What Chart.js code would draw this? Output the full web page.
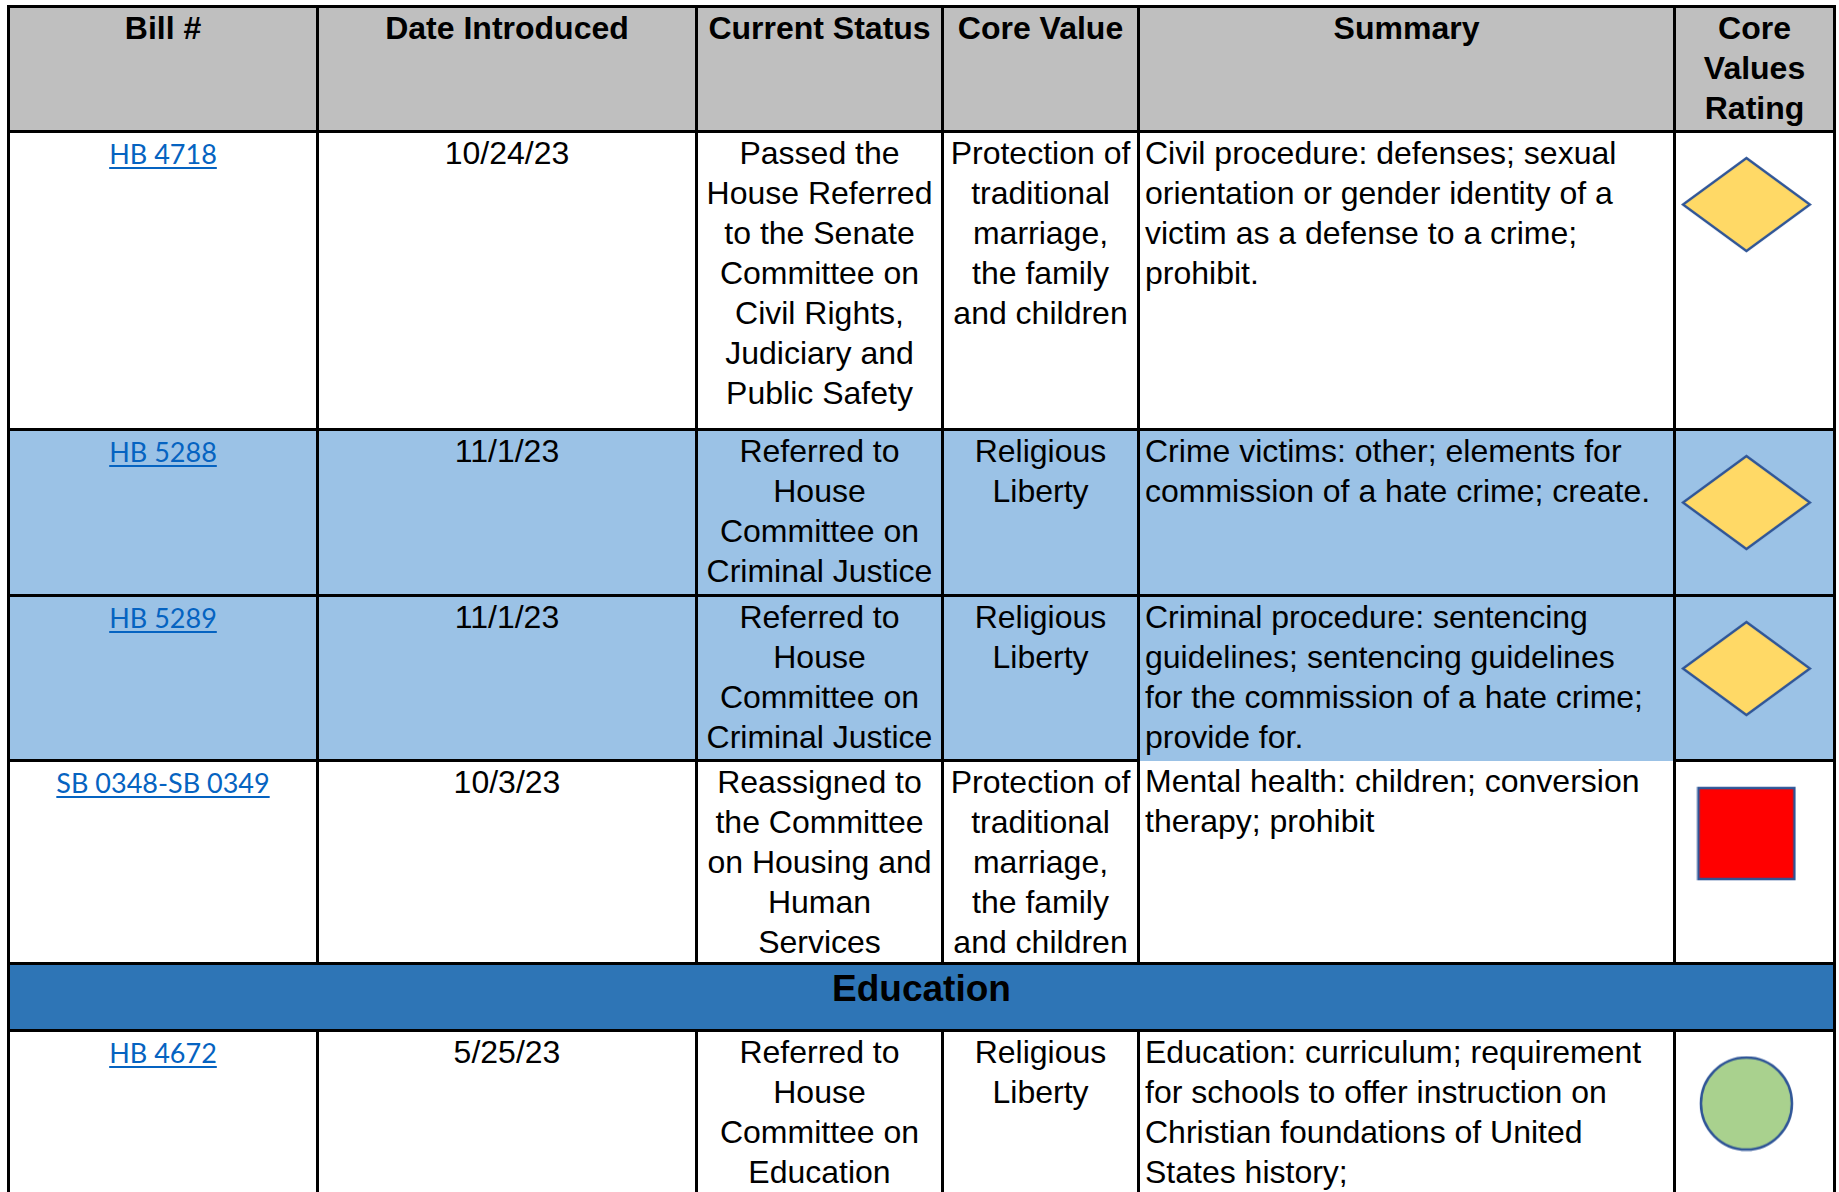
<!DOCTYPE html>
<html>
<head>
<meta charset="utf-8">
<script src="https://cdn.jsdelivr.net/npm/chart.js@4.4.0/dist/chart.umd.min.js"></script>
<style>
  html, body { margin: 0; padding: 0; background: #fff; overflow: hidden; width: 1839px; height: 1192px; }
  #tbl {
    position: absolute; left: 7px; top: 5px;
    border-collapse: collapse; table-layout: fixed; width: 1829px;
    font-family: "Liberation Sans", Arial, sans-serif; font-size: 32px; line-height: 40px; color: #000;
  }
  #tbl td, #tbl th { border: 3px solid #000; padding: 0 4px; vertical-align: top; white-space: pre; overflow: hidden; }
  #tbl th { background: #BFBFBF; font-weight: bold; text-align: center; }
  #tbl td { text-align: center; }
  #tbl td.summary { text-align: left; padding-left: 5px; }
  #tbl tr.blue td { background: #9BC2E6; }
  #tbl td.section { background: #2E75B6; font-weight: bold; font-size: 37px; line-height: 48px; }
  #tbl a { font-family: Lato, "Open Sans", sans-serif; font-size: 27px; color: #0563C1; text-decoration: underline; text-underline-offset: 3px; }
  #tbl td.rating { padding: 0; }
  #tbl td.rating canvas { display: block; }
</style>
</head>
<body>
<table id="tbl">
  <colgroup id="cols"></colgroup>
  <thead><tr id="head"></tr></thead>
  <tbody id="body"></tbody>
</table>
<script>
const headers = ['Bill #', 'Date Introduced', 'Current Status', 'Core Value', 'Summary', 'Core\nValues\nRating'];
const bills = ['HB 4718', 'HB 5288', 'HB 5289', 'SB 0348-SB 0349', 'HB 4672'];
const dates = ['10/24/23', '11/1/23', '11/1/23', '10/3/23', '5/25/23'];
const statuses = [
    'Passed the\nHouse Referred\nto the Senate\nCommittee on\nCivil Rights,\nJudiciary and\nPublic Safety',
    'Referred to\nHouse\nCommittee on\nCriminal Justice',
    'Referred to\nHouse\nCommittee on\nCriminal Justice',
    'Reassigned to\nthe Committee\non Housing and\nHuman\nServices',
    'Referred to\nHouse\nCommittee on\nEducation'
];
const coreValues = [
    'Protection of\ntraditional\nmarriage,\nthe family\nand children',
    'Religious\nLiberty',
    'Religious\nLiberty',
    'Protection of\ntraditional\nmarriage,\nthe family\nand children',
    'Religious\nLiberty'
];
const summaries = [
    'Civil procedure: defenses; sexual\norientation or gender identity of a\nvictim as a defense to a crime;\nprohibit.',
    'Crime victims: other; elements for\ncommission of a hate crime; create.',
    'Criminal procedure: sentencing\nguidelines; sentencing guidelines\nfor the commission of a hate crime;\nprovide for.',
    'Mental health: children; conversion\ntherapy; prohibit',
    'Education: curriculum; requirement\nfor schools to offer instruction on\nChristian foundations of United\nStates history;'
];
const ratings = ['yellow', 'yellow', 'yellow', 'red', 'green'];
const sectionTitle = 'Education';
const sectionBeforeRow = 4;

// layout (not data)
const colWidths = [309, 379, 246, 196, 536, 160];
const headHeight = 125;
const rowHeights = [298, 166, 165, 203, 300];
const sectionHeight = 67;
const blueRows = [1, 2];

// dibujar la forma del marcador en un canvas pequeño
function markerImage(shape, w, h, fill) {
    const c = document.createElement('canvas');
    c.width = w + 4;
    c.height = h + 4;
    const g = c.getContext('2d');
    g.beginPath();
    if (shape === 'diamond') {
        g.moveTo(c.width / 2, 2);
        g.lineTo(c.width - 2, c.height / 2);
        g.lineTo(c.width / 2, c.height - 2);
        g.lineTo(2, c.height / 2);
        g.closePath();
    } else if (shape === 'square') {
        g.rect(2, 2, w, h);
    } else {
        g.ellipse(c.width / 2, c.height / 2, w / 2, h / 2, 0, 0, Math.PI * 2);
    }
    g.fillStyle = fill;
    g.fill();
    g.lineWidth = 2.5;
    g.strokeStyle = '#2F5597';
    g.stroke();
    return c;
}

const markerStyles = {
    yellow: markerImage('diamond', 127, 93, '#FFD966'),
    red: markerImage('square', 96, 91, '#FF0000'),
    green: markerImage('circle', 91, 92, '#A9D18E')
};

const cols = document.getElementById('cols');
colWidths.forEach(w => {
    const c = document.createElement('col');
    c.style.width = w + 'px';
    cols.appendChild(c);
});

const head = document.getElementById('head');
head.style.height = headHeight + 'px';
headers.forEach(h => {
    const th = document.createElement('th');
    th.textContent = h;
    head.appendChild(th);
});

const tbody = document.getElementById('body');
const ratingCanvases = [];

bills.forEach((bill, i) => {
    if (i === sectionBeforeRow) {
        const sr = document.createElement('tr');
        sr.style.height = sectionHeight + 'px';
        sr.innerHTML = `<td class="section" colspan="6">${sectionTitle}</td>`;
        tbody.appendChild(sr);
    }
    const tr = document.createElement('tr');
    tr.style.height = rowHeights[i] + 'px';
    if (blueRows.includes(i)) tr.className = 'blue';
    tr.innerHTML = `
        <td><a href="#">${bill}</a></td>
        <td>${dates[i]}</td>
        <td>${statuses[i]}</td>
        <td>${coreValues[i]}</td>
        <td class="summary">${summaries[i]}</td>
        <td class="rating"><canvas width="154" height="150"></canvas></td>
    `;
    if (i === 2) tr.querySelector('td.summary').style.borderBottom = '3px hidden';
    tbody.appendChild(tr);
    ratingCanvases.push(tr.querySelector('canvas'));
});

// Renderizar marcadores de calificación
ratingCanvases.forEach((canvas, i) => {
    new Chart(canvas.getContext('2d'), {
        type: 'scatter',
        data: {
            datasets: [{
                label: ratings[i],
                data: [{ x: 0, y: 0 }],
                pointStyle: markerStyles[ratings[i]],
                pointRadius: 1,
                pointHoverRadius: 1,
                borderWidth: 0,
                clip: false
            }]
        },
        options: {
            responsive: false,
            animation: false,
            events: [],
            layout: { padding: 0 },
            scales: {
                x: { display: false, min: -1, max: 1.19 },
                y: { display: false, min: -1, max: 0.91 }
            },
            plugins: {
                legend: { display: false },
                tooltip: { enabled: false }
            }
        }
    });
});
</script>
</body>
</html>
